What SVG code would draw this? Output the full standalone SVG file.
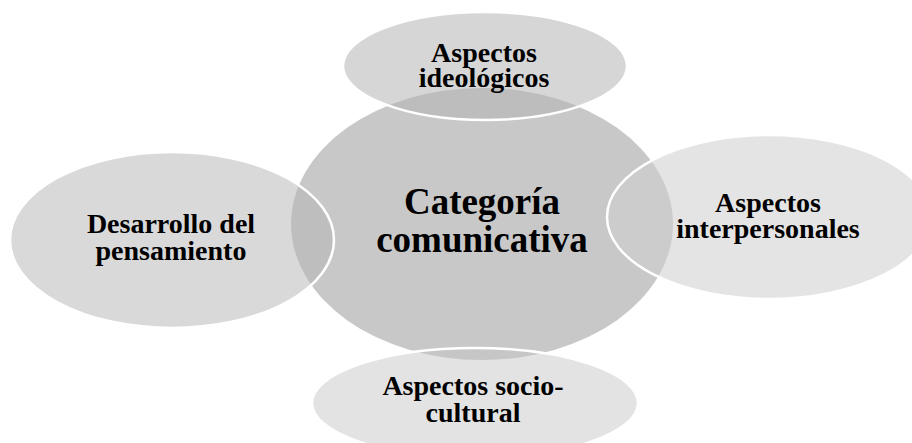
<svg xmlns="http://www.w3.org/2000/svg" width="912" height="443" viewBox="0 0 912 443">
<style>
text{font-family:"Liberation Serif","Times New Roman",serif;font-weight:bold;fill:#000;text-anchor:middle}
.sat{font-size:28px}
.main{font-size:37px}
.edge{fill:none;stroke:#fff;stroke-width:2.5}
</style>
<defs>
<clipPath id="cc"><ellipse cx="482" cy="224" rx="191" ry="136"/></clipPath>
</defs>
<rect width="912" height="443" fill="#fff"/>
<g id="center">
<ellipse cx="482" cy="224" rx="191" ry="136" fill="#c8c8c8"/>
</g>
<g id="top">
<ellipse cx="485" cy="66" rx="142" ry="54" fill="#d6d6d6"/>
<ellipse cx="485" cy="66" rx="142" ry="54" fill="#bdbdbd" clip-path="url(#cc)"/>
<ellipse class="edge" cx="485" cy="66" rx="142" ry="54"/>
<text class="sat" x="484" y="62">Aspectos</text>
<text class="sat" x="484" y="87">ideológicos</text>
</g>
<g id="left">
<ellipse cx="172" cy="240" rx="162" ry="88" fill="#d9d9d9"/>
<ellipse cx="172" cy="240" rx="162" ry="88" fill="#bebebe" clip-path="url(#cc)"/>
<ellipse class="edge" cx="172" cy="240" rx="162" ry="88"/>
<text class="sat" x="171" y="233">Desarrollo del</text>
<text class="sat" x="171" y="260">pensamiento</text>
</g>
<g id="right">
<ellipse cx="769" cy="217" rx="162" ry="82" fill="#e4e4e4"/>
<ellipse cx="769" cy="217" rx="162" ry="82" fill="#cccccc" clip-path="url(#cc)"/>
<ellipse class="edge" cx="769" cy="217" rx="162" ry="82"/>
<text class="sat" x="768" y="212">Aspectos</text>
<text class="sat" x="768" y="238">interpersonales</text>
</g>
<g id="bottom">
<ellipse cx="475" cy="403" rx="163" ry="55" fill="#e3e3e3"/>
<ellipse cx="475" cy="403" rx="163" ry="55" fill="#c6c6c6" clip-path="url(#cc)"/>
<ellipse class="edge" cx="475" cy="403" rx="163" ry="55"/>
<text class="sat" x="473" y="395">Aspectos socio-</text>
<text class="sat" x="473" y="422">cultural</text>
</g>
<g id="center-label">
<text class="main" x="482" y="214">Categoría</text>
<text class="main" x="482" y="252">comunicativa</text>
</g>
<g id="connectors"></g>
</svg>
